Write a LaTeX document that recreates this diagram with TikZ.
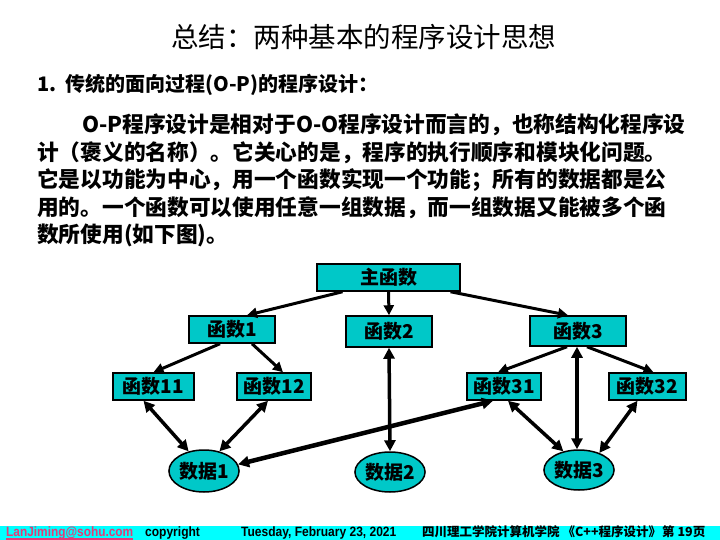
\documentclass[tikz,border=0pt]{standalone}
\usepackage{fontspec}
\setmainfont{Noto Sans CJK SC}
\newfontfamily\cjk{Noto Sans CJK SC}
\newfontfamily\arialf{Liberation Sans}
\usetikzlibrary{shapes.geometric,arrows.meta}
\definecolor{boxfill}{RGB}{0,200,200}
\definecolor{band}{RGB}{0,255,255}
\definecolor{linkc}{RGB}{225,60,120}
\tikzset{
  fbox/.style={draw=black,line width=1.5pt,fill=boxfill,inner sep=0pt,
     font=\cjk\bfseries\fontsize{19}{19}\selectfont},
  dbox/.style={ellipse,draw=black,line width=1.5pt,fill=boxfill,inner sep=0pt,
     font=\cjk\bfseries\fontsize{19}{19}\selectfont},
  arr/.style={line width=3pt,-{Triangle[length=10pt,width=10pt]}},
  darr/.style={line width=3.5pt,{Triangle[length=11pt,width=11pt]}-{Triangle[length=11pt,width=11pt]}},
  para/.style={anchor=west,inner sep=0pt,font=\cjk\bfseries\fontsize{21.7}{21.7}\selectfont},
  foot/.style={anchor=base west,inner sep=0pt,font=\arialf\bfseries\fontsize{13.5}{13.5}\selectfont},
  footc/.style={anchor=base west,inner sep=0pt,font=\cjk\bfseries\fontsize{12.5}{12.5}\selectfont}
}
\begin{document}
\begin{tikzpicture}[x=1pt,y=-1pt]
\useasboundingbox (0,0) rectangle (720,540);
\fill[white] (0,0) rectangle (720,540);
% title
\node[inner sep=0pt,font=\cjk\fontsize{27.5}{27.5}\selectfont] (title) at (363.5,37) {总结：两种基本的程序设计思想};
\node[anchor=west,inner sep=0pt,font=\cjk\bfseries\fontsize{20}{20}\selectfont] (sub) at (37,85) {1.\ \ 传统的面向过程(O-P)的程序设计：};
% paragraph
\node[para] (p1) at (82,125) {O-P程序设计是相对于O-O程序设计而言的，也称结构化程序设};
\node[para] (p2) at (37,152.5) {计（褒义的名称）。它关心的是，程序的执行顺序和模块化问题。};
\node[para] (p3) at (37,180) {它是以功能为中心，用一个函数实现一个功能；所有的数据都是公};
\node[para] (p4) at (37,207.5) {用的。一个函数可以使用任意一组数据，而一组数据又能被多个函};
\node[para] (p5) at (37,235) {数所使用(如下图)。};
% boxes
\node[fbox,minimum width=143pt,minimum height=27pt] (main) at (388.5,277.5) {主函数};
\node[fbox,minimum width=86pt,minimum height=27pt] (f1) at (232,329.5) {函数1};
\node[fbox,minimum width=86pt,minimum height=31pt] (f2) at (389,331.5) {函数2};
\node[fbox,minimum width=96pt,minimum height=30pt] (f3) at (578,331) {函数3};
\node[fbox,minimum width=81pt,minimum height=27pt] (f11) at (153.5,386.5) {函数11};
\node[fbox,minimum width=74pt,minimum height=27pt] (f12) at (274,386.5) {函数12};
\node[fbox,minimum width=74pt,minimum height=27pt] (f31) at (504,386.5) {函数31};
\node[fbox,minimum width=77pt,minimum height=27pt] (f32) at (647.5,386.5) {函数32};
\node[dbox,minimum width=64pt,minimum height=42pt] (d1) at (204,471) {数据1};
\node[dbox,minimum width=64pt,minimum height=40pt] (d2) at (390,472) {数据2};
\node[dbox,minimum width=64pt,minimum height=40pt] (d3) at (579,470) {数据3};
% tree arrows
\draw[arr] ([xshift=-46pt]main.south) -- ([xshift=15pt]f1.north);
\draw[arr] (main.south) -- (f2.north);
\draw[arr] ([xshift=62pt]main.south) -- ([xshift=-10pt]f3.north);
\draw[arr] ([xshift=-12pt]f1.south) -- (f11.north);
\draw[arr] ([xshift=20pt]f1.south) -- ([xshift=9pt]f12.north);
\draw[arr] ([xshift=-11pt]f3.south) -- ([xshift=-6pt]f31.north);
\draw[arr] ([xshift=9pt]f3.south) -- ([xshift=6pt]f32.north);
% data arrows
\draw[darr] ([xshift=-10pt]f11.south) -- (d1.128);
\draw[darr] ([xshift=-6pt]f12.south) -- (d1.52);
\draw[darr] (f2.south) -- (d2.north);
\draw[darr,line width=4.5pt] (d1.11) -- ([xshift=-11pt]f31.south);
\draw[darr] ([xshift=4pt]f31.south) -- (d3.130);
\draw[darr] ([xshift=-1pt]f3.south) -- ([xshift=-2pt]d3.north);
\draw[darr] ([xshift=-10pt]f32.south) -- (d3.40);
% footer
\fill[band] (0,526) rectangle (720,540);
\node[foot,text=linkc] (mail) at (6,536) {\scalebox{0.88}[1]{LanJiming@sohu.com}};
\draw[linkc,line width=2pt] ([yshift=-2.5pt]mail.base west) -- ([yshift=-2.5pt]mail.base east);
\node[foot] (copy) at (145,536) {\scalebox{0.89}[1]{copyright}};
\node[foot] (date) at (241,536) {\scalebox{0.89}[1]{Tuesday, February 23, 2021}};
\node[footc] (school) at (422,536) {四川理工学院计算机学院 《C++程序设计》};
\node[footc] (page) at (662,536) {第 19页};
\end{tikzpicture}
\end{document}
